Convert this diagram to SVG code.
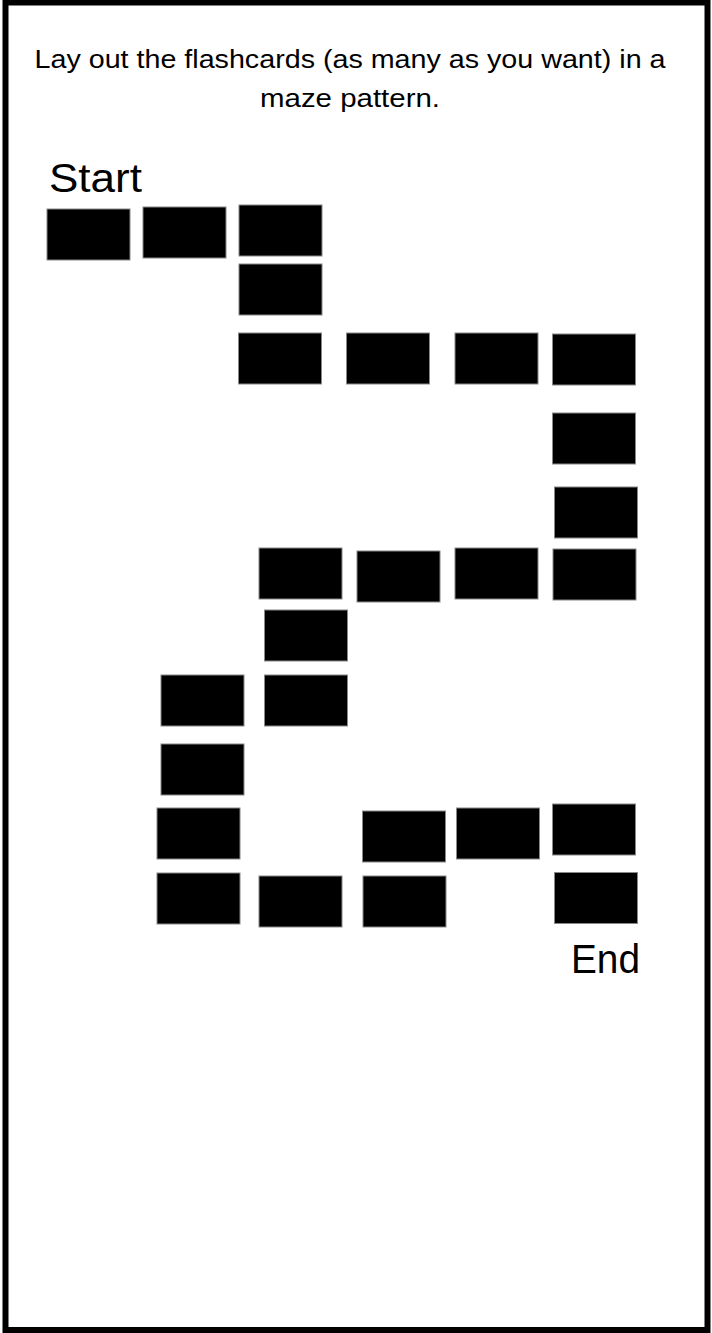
<svg xmlns="http://www.w3.org/2000/svg" width="712" height="1333" viewBox="0 0 712 1333">
<style>
.card{fill:#000;stroke:#888;stroke-width:1}
.t{font-family:"Liberation Sans",Arial,sans-serif;fill:#000}
</style>
<rect x="0" y="0" width="712" height="1333" fill="#fff"/>
<rect id="frame" x="5.5" y="2.5" width="702" height="1327.5" fill="none" stroke="#000" stroke-width="6"/>
<g id="title">
<text class="t" x="350" y="68" font-size="25" text-anchor="middle" textLength="631" lengthAdjust="spacingAndGlyphs">Lay out the flashcards (as many as you want) in a</text>
<text class="t" x="350" y="107" font-size="25" text-anchor="middle" textLength="180" lengthAdjust="spacingAndGlyphs">maze pattern.</text>
</g>
<g id="start-label"><text class="t" x="49" y="192" font-size="40" textLength="93" lengthAdjust="spacingAndGlyphs">Start</text></g>
<g id="end-label"><text class="t" x="571" y="973" font-size="40" textLength="69" lengthAdjust="spacingAndGlyphs">End</text></g>
<g id="connectors"></g>
<g id="cards">
<g id="c1"><rect class="card" x="47" y="209" width="83" height="51"/></g>
<g id="c2"><rect class="card" x="143" y="207" width="83" height="51"/></g>
<g id="c3"><rect class="card" x="239" y="205" width="83" height="51"/></g>
<g id="c4"><rect class="card" x="239" y="264" width="83" height="51"/></g>
<g id="c5"><rect class="card" x="238.5" y="333" width="83" height="51"/></g>
<g id="c6"><rect class="card" x="346.5" y="333" width="83" height="51"/></g>
<g id="c7"><rect class="card" x="455" y="333" width="83" height="51"/></g>
<g id="c8"><rect class="card" x="552.5" y="334" width="83" height="51"/></g>
<g id="c9"><rect class="card" x="552.5" y="413" width="83" height="51"/></g>
<g id="c10"><rect class="card" x="554.5" y="487" width="83" height="51"/></g>
<g id="c11"><rect class="card" x="553" y="549" width="83" height="51"/></g>
<g id="c12"><rect class="card" x="455" y="548" width="83" height="51"/></g>
<g id="c13"><rect class="card" x="357" y="551" width="83" height="51"/></g>
<g id="c14"><rect class="card" x="259" y="548" width="83" height="51"/></g>
<g id="c15"><rect class="card" x="264.5" y="610" width="83" height="51"/></g>
<g id="c16"><rect class="card" x="264.5" y="675" width="83" height="51"/></g>
<g id="c17"><rect class="card" x="161" y="675" width="83" height="51"/></g>
<g id="c18"><rect class="card" x="161" y="744" width="83" height="51"/></g>
<g id="c19"><rect class="card" x="157" y="808" width="83" height="51"/></g>
<g id="c20"><rect class="card" x="157" y="873" width="83" height="51"/></g>
<g id="c21"><rect class="card" x="259" y="876" width="83" height="51"/></g>
<g id="c22"><rect class="card" x="363" y="876" width="83" height="51"/></g>
<g id="c23"><rect class="card" x="362.5" y="811" width="83" height="51"/></g>
<g id="c24"><rect class="card" x="456.5" y="808" width="83" height="51"/></g>
<g id="c25"><rect class="card" x="552.5" y="804" width="83" height="51"/></g>
<g id="c26"><rect class="card" x="554.5" y="872.5" width="83" height="51"/></g>
</g>
</svg>
